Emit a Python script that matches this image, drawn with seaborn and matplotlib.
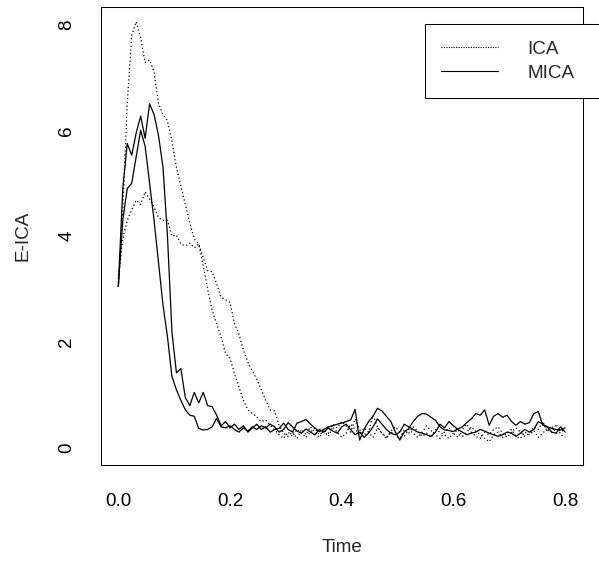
import numpy as np
import pandas as pd
import matplotlib
matplotlib.use("Agg")
import matplotlib.pyplot as plt
from matplotlib.lines import Line2D
import seaborn as sns

# time grid (101 samples, 0 .. 0.8)
time = np.linspace(0.0, 0.8, 101)

# ICA run 1 (high peak)
ica_1 = [3.05, 4.5, 6.5, 7.8, 8.05, 7.75, 7.28, 7.33, 7.1, 6.5,
         6.3, 6.18, 5.8, 5.3, 4.95, 4.6, 4.25, 3.95, 3.85, 3.6,
         3.35, 3.33, 3.1, 2.85, 2.8, 2.75, 2.35, 2.15, 1.85, 1.62,
         1.45, 1.3, 1.1, 0.9, 0.72, 0.7, 0.42, 0.28,
         0.22, 0.30, 0.18, 0.35, 0.25, 0.40, 0.30, 0.20, 0.33, 0.28,
         0.45, 0.38, 0.50, 0.42, 0.30, 0.55, 0.35, 0.25, 0.30, 0.20,
         0.38, 0.28, 0.18, 0.32, 0.40, 0.30, 0.22, 0.35, 0.28, 0.20,
         0.30, 0.42, 0.33, 0.25, 0.18, 0.30, 0.38, 0.28, 0.20, 0.35,
         0.45, 0.30, 0.22, 0.18, 0.30, 0.25, 0.35, 0.40, 0.28, 0.20,
         0.30, 0.38, 0.30, 0.22, 0.28, 0.40, 0.35, 0.50, 0.30, 0.42,
         0.28, 0.35, 0.30]

# ICA run 2 (low peak)
ica_2 = [3.2, 3.95, 4.3, 4.5, 4.68, 4.6, 4.84, 4.7, 4.55, 4.35,
         4.3, 4.3, 4.0, 4.02, 3.85, 3.82, 3.87, 3.78, 3.85, 3.45,
         3.0, 2.6, 2.35, 2.1, 1.78, 1.7, 1.4, 1.15, 0.9, 0.72,
         0.65, 0.59, 0.5, 0.53, 0.43, 0.34,
         0.25, 0.18, 0.30, 0.22, 0.35, 0.28, 0.20, 0.30, 0.38, 0.25,
         0.32, 0.22, 0.40, 0.30, 0.20, 0.28, 0.45, 0.35, 0.25, 0.38,
         0.30, 0.62, 0.40, 0.28, 0.20, 0.30, 0.25, 0.18, 0.35, 0.28,
         0.40, 0.32, 0.22, 0.28, 0.20, 0.35, 0.30, 0.25, 0.18, 0.28,
         0.35, 0.22, 0.30, 0.40, 0.32, 0.25, 0.18, 0.12, 0.25, 0.30,
         0.20, 0.28, 0.35, 0.22, 0.18, 0.30, 0.25, 0.33, 0.20, 0.28,
         0.38, 0.30, 0.45, 0.25, 0.20]

# MICA run 1 (peak ~6.5)
mica_1 = [3.05, 4.9, 5.75, 5.53, 5.95, 6.27, 5.85, 6.5, 6.3, 5.9,
          5.3, 4.0, 2.2, 1.42, 1.5, 0.95, 0.8, 1.05, 0.85, 1.05,
          0.8, 0.78, 0.62, 0.42, 0.5, 0.38,
          0.45, 0.35, 0.42, 0.30, 0.38, 0.45, 0.35, 0.40, 0.30, 0.35,
          0.37, 0.47, 0.35, 0.30, 0.47, 0.50, 0.54, 0.45, 0.38, 0.31,
          0.35, 0.40, 0.42, 0.45, 0.47, 0.50, 0.53, 0.73, 0.15, 0.35,
          0.50, 0.60, 0.75, 0.70, 0.60, 0.50, 0.30, 0.15, 0.30, 0.37,
          0.50, 0.60, 0.65, 0.64, 0.58, 0.52, 0.40, 0.34, 0.33, 0.31,
          0.36, 0.40, 0.48, 0.55, 0.65, 0.62, 0.72, 0.43, 0.60, 0.65,
          0.58, 0.62, 0.50, 0.43, 0.50, 0.45, 0.48, 0.65, 0.69, 0.43,
          0.40, 0.37, 0.35, 0.34, 0.38]

# MICA run 2 (peak ~6.0)
mica_2 = [3.05, 4.3, 4.9, 5.0, 5.5, 6.0, 5.7, 5.0, 4.3, 3.5,
          2.7, 2.1, 1.35, 1.1, 0.9, 0.72, 0.62, 0.6, 0.37, 0.34,
          0.35, 0.4, 0.56, 0.4, 0.38, 0.42,
          0.35, 0.30, 0.38, 0.32, 0.40, 0.35, 0.42, 0.38, 0.45, 0.40,
          0.30, 0.35, 0.48, 0.40, 0.32, 0.28, 0.36, 0.30, 0.25, 0.35,
          0.30, 0.38, 0.32, 0.28, 0.40, 0.45, 0.35, 0.25, 0.30, 0.20,
          0.28, 0.40, 0.55, 0.45, 0.35, 0.28, 0.25, 0.30, 0.45, 0.40,
          0.35, 0.30, 0.28, 0.25, 0.22, 0.30, 0.45, 0.38, 0.50, 0.42,
          0.35, 0.30, 0.25, 0.28, 0.30, 0.35, 0.32, 0.28, 0.25, 0.22,
          0.25, 0.30, 0.28, 0.22, 0.28, 0.35, 0.30, 0.35, 0.50, 0.45,
          0.40, 0.30, 0.28, 0.40, 0.30]

runs = {"ica_1": ("ICA", ica_1), "ica_2": ("ICA", ica_2),
        "mica_1": ("MICA", mica_1), "mica_2": ("MICA", mica_2)}

frames = []
for run, (method, vals) in runs.items():
    frames.append(pd.DataFrame({"Time": time, "E-ICA": vals,
                                "run": run, "method": method}))
df = pd.concat(frames, ignore_index=True)

sns.set_style("white")
plt.rcParams['font.family'] = ['Liberation Sans', 'DejaVu Sans']
FS = 13.6

fig = plt.figure(figsize=(5.99, 5.62), dpi=100)
ax = fig.add_axes([101 / 599, 97 / 562, 482 / 599, 458 / 562])

dotted = (1, 2.0)
sns.lineplot(data=df, x="Time", y="E-ICA", units="run", estimator=None,
             style="method", dashes={"ICA": dotted, "MICA": ""},
             color="black", linewidth=0.9, legend=False, ax=ax)

ax.set_xlim(-0.031, 0.832)
ax.set_ylim(-0.321, 8.329)
ax.set_xticks([0, 0.2, 0.4, 0.6, 0.8])
ax.set_xticklabels(["0.0", "0.2", "0.4", "0.6", "0.8"], fontsize=FS)
ax.set_yticks([0, 2, 4, 6, 8])
ax.set_yticklabels(["0", "2", "4", "6", "8"], fontsize=FS,
                   rotation=90, va="center")
ax.tick_params(axis="both", direction="out", length=6.5, width=0.75,
               color="black", labelcolor="black")
ax.tick_params(axis="x", pad=14)
ax.tick_params(axis="y", pad=12)
for sp in ax.spines.values():
    sp.set_visible(True)
    sp.set_color("black")
    sp.set_linewidth(0.75)

ax.set_xlabel("Time", fontsize=FS, va="center")
ax.xaxis.set_label_coords(0.5, (465 - 548) / 458)
ax.set_ylabel("E-ICA", fontsize=FS, va="center", ha="center")
ax.yaxis.set_label_coords((23 - 101) / 482, 0.5)

# legend box sits over the top-right corner, running past the frame
handles = [Line2D([], [], color="black", lw=0.8, dashes=(1, 1.2)),
           Line2D([], [], color="black", lw=0.8)]
leg = fig.legend(handles, ["ICA", "MICA"], loc="upper left",
                 bbox_to_anchor=(425 / 599, 1 - 101 / 562,
                                 (610 - 425) / 599, (101 - 24) / 562),
                 mode="expand", borderaxespad=0, fontsize=FS,
                 frameon=True, fancybox=False, framealpha=1,
                 edgecolor="black", borderpad=0.87, labelspacing=0.36,
                 handlelength=3.0, handletextpad=1.55)
leg.get_frame().set_linewidth(0.75)

fig.savefig("out.png", dpi=100)
